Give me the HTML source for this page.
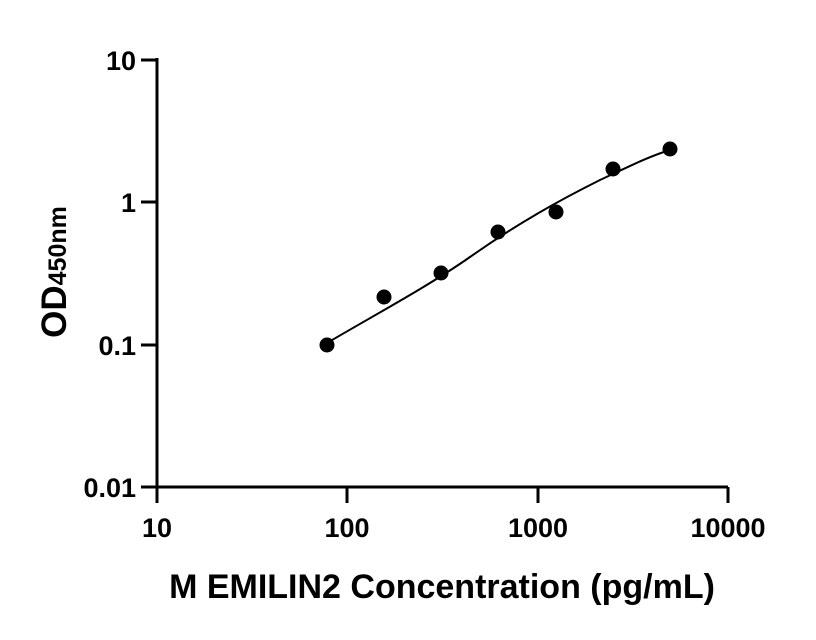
<!DOCTYPE html>
<html><head><meta charset="utf-8"><style>
body{margin:0;background:#fff}
svg{display:block}
text{font-family:"Liberation Sans",Arial,sans-serif;font-weight:bold;fill:#000}
</style></head><body>
<svg width="816" height="640" viewBox="0 0 816 640">
<g stroke="#000" stroke-width="3" fill="none">
<path d="M157,58 V487 H728"/>
<path d="M141,60 H157 M141,202 H157 M141,345 H157 M141,487 H157"/>
<path d="M157,487 V503 M347,487 V503 M538,487 V503 M728,487 V503"/>
</g>
<g font-size="27" text-anchor="end">
<text x="136" y="70">10</text>
<text x="136" y="212">1</text>
<text x="136" y="355">0.1</text>
<text x="136" y="497">0.01</text>
</g>
<g font-size="27" text-anchor="middle">
<text x="157" y="537">10</text>
<text x="347" y="537">100</text>
<text x="538" y="537">1000</text>
<text x="728" y="537">10000</text>
</g>
<text x="442" y="598" font-size="34" text-anchor="middle">M EMILIN2 Concentration (pg/mL)</text>
<text transform="translate(66,272) rotate(-90)" font-size="35" text-anchor="middle">OD<tspan font-size="25">450nm</tspan></text>
<path d="M327,343 C380,312 430,285 470,257 C520,222 560,200 600,180 C630,166 650,156 670,150" stroke="#000" stroke-width="2" fill="none"/>
<g fill="#000">
<circle cx="327" cy="345" r="7.5"/>
<circle cx="384" cy="297" r="7.5"/>
<circle cx="441" cy="273" r="7.5"/>
<circle cx="498" cy="232" r="7.5"/>
<circle cx="556" cy="212" r="7.5"/>
<circle cx="613" cy="169" r="7.5"/>
<circle cx="670" cy="149" r="7.5"/>
</g>
</svg>
</body></html>
